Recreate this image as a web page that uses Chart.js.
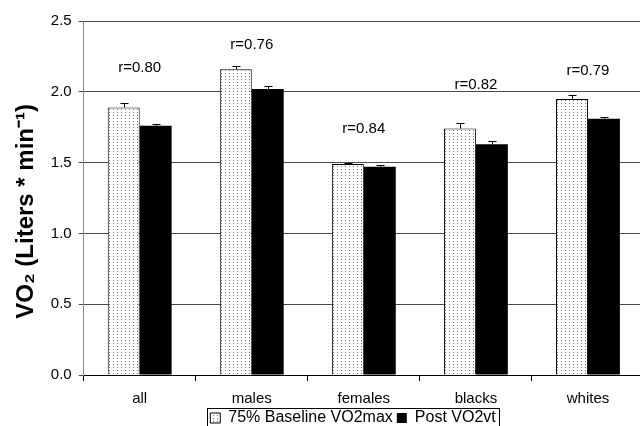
<!DOCTYPE html>
<html>
<head>
<meta charset="utf-8">
<script src="https://cdn.jsdelivr.net/npm/chart.js@4"></script>
<style>
  html, body { margin: 0; padding: 0; background: #fff; overflow: hidden; }
  #wrap { width: 644px; height: 426px; }
</style>
</head>
<body>
<div id="wrap"><canvas id="vo2Chart"></canvas></div>
<script>
// Data
const categories = ['all', 'males', 'females', 'blacks', 'whites'];
const baselineVO2 = [1.89, 2.16, 1.49, 1.74, 1.95];
const postVO2 = [1.76, 2.02, 1.47, 1.63, 1.81];
const baselineErr = [0.03, 0.02, 0.01, 0.04, 0.03];
const postErr = [0.015, 0.02, 0.01, 0.02, 0.015];
const rLabels = ['r=0.80', 'r=0.76', 'r=0.84', 'r=0.82', 'r=0.79'];
const rLabelY = [2.17, 2.33, 1.74, 2.05, 2.15];
const yTicks = [0, 0.5, 1.0, 1.5, 2.0, 2.5];

const FONT = '"Liberation Sans", Arial, sans-serif';

// Dotted fill for the baseline bars
function makeDots() {
    const c = document.createElement('canvas');
    c.width = 4;
    c.height = 3;
    const g = c.getContext('2d');
    g.fillStyle = '#fff';
    g.fillRect(0, 0, 4, 3);
    g.fillStyle = '#777';
    g.fillRect(1, 1, 1, 1);
    return g.createPattern(c, 'repeat');
}
const dots = makeDots();

// Error bars (upper whisker only)
const errorBars = {
    id: 'errorBars',
    afterDatasetsDraw(chart) {
        const ctx = chart.ctx;
        const y = chart.scales.y;
        const errs = [baselineErr, postErr];
        ctx.save();
        ctx.strokeStyle = '#000';
        ctx.lineWidth = 1;
        chart.data.datasets.forEach((ds, i) => {
            chart.getDatasetMeta(i).data.forEach((bar, j) => {
                const top = Math.round(y.getPixelForValue(ds.data[j] + errs[i][j])) + 0.5;
                const x = Math.round(bar.x) + 0.5;
                ctx.beginPath();
                ctx.moveTo(x, bar.y);
                ctx.lineTo(x, top);
                ctx.moveTo(x - 4, top);
                ctx.lineTo(x + 4, top);
                ctx.stroke();
            });
        });
        ctx.restore();
    }
};

// r labels above each group
const rText = {
    id: 'rText',
    afterDatasetsDraw(chart) {
        const ctx = chart.ctx;
        ctx.save();
        ctx.font = '15px ' + FONT;
        ctx.fillStyle = '#000';
        ctx.textAlign = 'center';
        ctx.textBaseline = 'middle';
        rLabels.forEach((t, i) => {
            ctx.fillText(t, chart.scales.x.getPixelForValue(i), chart.scales.y.getPixelForValue(rLabelY[i]));
        });
        ctx.restore();
    }
};

// Move the legend under the middle of the bars, and frame it
const legendBox = {
    id: 'legendBox',
    afterLayout(chart) {
        const l = chart.legend;
        const dx = 353 - (l.left + l.right) / 2;
        const dy = 406 - l.top;
        l.left += dx; l.right += dx;
        l.top += dy; l.bottom += dy;
        // let the x labels run into the legend band without being clipped
        chart.scales.x.bottom = chart.height;
    },
    afterDraw(chart) {
        const items = chart.legend.legendHitBoxes;
        if (!items.length) return;
        const first = items[0];
        const last = items[items.length - 1];
        const left = Math.round(first.left) - 2.5;
        const right = Math.round(last.left + last.width) + 3.5;
        const mid = Math.round(first.top + first.height / 2);
        const ctx = chart.ctx;
        ctx.save();
        ctx.strokeStyle = '#000';
        ctx.lineWidth = 1;
        ctx.strokeRect(left, mid - 9.5, right - left, 18);
        ctx.restore();
    }
};

const ctx = document.getElementById('vo2Chart').getContext('2d');
new Chart(ctx, {
    type: 'bar',
    data: {
        labels: categories,
        datasets: [{
            label: '75% Baseline VO2max',
            data: baselineVO2,
            backgroundColor: dots,
            borderColor: '#000',
            borderWidth: 1,
            borderSkipped: 'bottom'
        }, {
            label: 'Post VO2vt',
            data: postVO2,
            backgroundColor: '#000',
            borderColor: '#000',
            borderWidth: 0
        }]
    },
    options: {
        responsive: true,
        maintainAspectRatio: false,
        animation: false,
        datasets: {
            bar: {
                categoryPercentage: 0.57,
                barPercentage: 1.0
            }
        },
        layout: {
            padding: { top: 21, left: 12, right: 0, bottom: 0 }
        },
        scales: {
            x: {
                afterFit(scale) {
                    scale.height = Math.max(0, 51 - scale.chart.legend.height);
                },
                grid: {
                    offset: true,
                    drawOnChartArea: false,
                    drawTicks: true,
                    tickLength: 6,
                    color: '#000'
                },
                border: { color: '#000', width: 1 },
                ticks: {
                    color: '#000',
                    font: { family: FONT, size: 15 },
                    padding: 9
                }
            },
            y: {
                min: 0,
                max: 2.5,
                afterBuildTicks(axis) {
                    axis.ticks = yTicks.map(v => ({ value: v }));
                },
                grid: {
                    color: '#4a4a4a',
                    tickLength: 5
                },
                border: { color: '#888', width: 1 },
                ticks: {
                    color: '#000',
                    font: { family: FONT, size: 15 },
                    padding: 7,
                    callback: v => v.toFixed(1)
                },
                title: {
                    display: true,
                    text: 'VO\u2082 (Liters * min\u207B\u00B9)    ',
                    color: '#000',
                    font: { family: FONT, size: 24, weight: 'bold' },
                    padding: { top: 0, bottom: 3 }
                }
            }
        },
        plugins: {
            legend: {
                position: 'bottom',
                labels: {
                    color: '#000',
                    font: { family: FONT, size: 16 },
                    boxWidth: 10,
                    boxHeight: 10,
                    padding: 4
                }
            },
            tooltip: { enabled: false }
        }
    },
    plugins: [errorBars, rText, legendBox]
});
</script>
</body>
</html>
